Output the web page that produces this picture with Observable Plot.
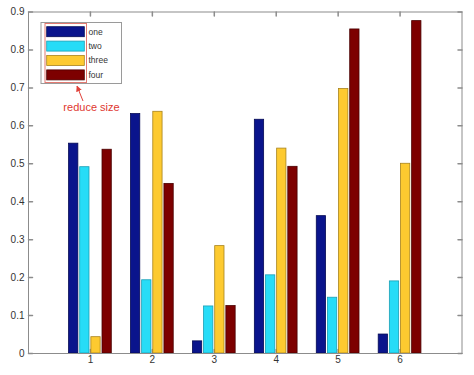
<!DOCTYPE html>
<html><head><meta charset="utf-8">
<script src="https://cdn.jsdelivr.net/npm/d3@7"></script>
<script src="https://cdn.jsdelivr.net/npm/@observablehq/plot@0.6"></script>
<style>body{margin:0;background:#fff;} #chart{width:474px;height:375px;}</style>
</head><body><div id="chart"></div>
<script>
const categories = [1, 2, 3, 4, 5, 6];
const seriesNames = ["one", "two", "three", "four"];
const one   = [0.553, 0.631, 0.032, 0.616, 0.362, 0.050];
const two   = [0.491, 0.193, 0.124, 0.206, 0.147, 0.190];
const three = [0.043, 0.637, 0.283, 0.540, 0.697, 0.500];
const four  = [0.537, 0.447, 0.125, 0.492, 0.854, 0.876];
const yTicks = [0, 0.1, 0.2, 0.3, 0.4, 0.5, 0.6, 0.7, 0.8, 0.9];
const xTicks = [1, 2, 3, 4, 5, 6];
const annotationText = "reduce size";

const colors  = ["#0a148c", "#27dcf7", "#fdca30", "#7d0000"];
const strokes = ["#050a55", "#1a9fb5", "#a8831c", "#4a0000"];
const series = [one, two, three, four];

const rows = [];
series.forEach((vals, si) => vals.forEach((v, ci) => rows.push({cat: categories[ci], si, name: seriesNames[si], value: v})));

const pitch = 0.18, bw = 0.15;
const tickShape = {draw(ctx, l) { ctx.moveTo(0, 0); ctx.lineTo(0, -l); }};
const axisColor = "#8c8c8c";

const plot = Plot.plot({
  width: 474, height: 375,
  marginLeft: 28, marginRight: 12.5, marginTop: 11.5, marginBottom: 22,
  x: {domain: [0, 7], axis: null},
  y: {domain: [0, 0.9], axis: null},
  color: {type: "identity"},
  style: {fontFamily: "'Liberation Sans', Arial, sans-serif", fontSize: "10px", color: "#333", background: "white"},
  marks: [
    Plot.vector(xTicks, {x: d => d, frameAnchor: "bottom", length: 4, rotate: 0, anchor: "start", shape: tickShape, stroke: axisColor}),
    Plot.vector(xTicks, {x: d => d, frameAnchor: "top", length: 4, rotate: 180, anchor: "start", shape: tickShape, stroke: axisColor}),
    Plot.vector(yTicks, {y: d => d, frameAnchor: "left", length: 4, rotate: 90, anchor: "start", shape: tickShape, stroke: axisColor}),
    Plot.vector(yTicks, {y: d => d, frameAnchor: "right", length: 4, rotate: -90, anchor: "start", shape: tickShape, stroke: axisColor}),
    Plot.rectY(rows, {
      x1: d => d.cat + (d.si - 1.5) * pitch - bw / 2,
      x2: d => d.cat + (d.si - 1.5) * pitch + bw / 2,
      y1: 0, y2: "value",
      fill: d => colors[d.si], stroke: d => strokes[d.si], strokeWidth: 0.8
    }),
    Plot.frame({stroke: axisColor}),
    Plot.text(yTicks, {y: d => d, frameAnchor: "left", dx: -4, textAnchor: "end", text: d => d === 0 ? "0" : d.toFixed(1), fill: "#333"}),
    Plot.text(xTicks, {x: d => d, frameAnchor: "bottom", dy: 9.5, text: d => String(d), fill: "#333"})
  ]
});

document.getElementById("chart").appendChild(plot);

// Legend (inside the axes, top-left) and annotation
const svg = d3.select(plot);
const lg = svg.append("g").attr("font-family", "'Liberation Sans', Arial, sans-serif").attr("font-size", 8.5).attr("text-anchor", "start");
lg.append("rect").attr("x", 41).attr("y", 22.5).attr("width", 80.5).attr("height", 61)
  .attr("fill", "white").attr("stroke", "#9a9a9a");
seriesNames.forEach((name, i) => {
  const y = 26.7 + i * 14.4;
  lg.append("rect").attr("x", 46.7).attr("y", y).attr("width", 37.6).attr("height", 10)
    .attr("fill", colors[i]).attr("stroke", strokes[i]).attr("stroke-width", 0.8);
  lg.append("text").attr("x", 88.5).attr("y", y + 5).attr("dy", "0.35em").attr("text-anchor", "start").attr("fill", "#333").text(name);
});
// red annotation box
lg.append("rect").attr("x", 45).attr("y", 23.5).attr("width", 41.5).attr("height", 59)
  .attr("fill", "none").attr("stroke", "#e37a72").attr("stroke-width", 1);
// arrow
const defs = svg.append("defs");
defs.append("marker").attr("id", "ah").attr("viewBox", "0 0 10 10").attr("refX", 9).attr("refY", 5)
  .attr("markerWidth", 6).attr("markerHeight", 6).attr("orient", "auto")
  .append("path").attr("d", "M0,0L10,5L0,10z").attr("fill", "#e0413a");
lg.append("line").attr("x1", 83).attr("y1", 101).attr("x2", 77).attr("y2", 86)
  .attr("stroke", "#e0413a").attr("stroke-width", 1).attr("marker-end", "url(#ah)");
lg.append("text").attr("x", 91.5).attr("y", 111).attr("text-anchor", "middle")
  .attr("fill", "#e0372f").attr("font-size", 11).text(annotationText);
</script>
</body></html>
